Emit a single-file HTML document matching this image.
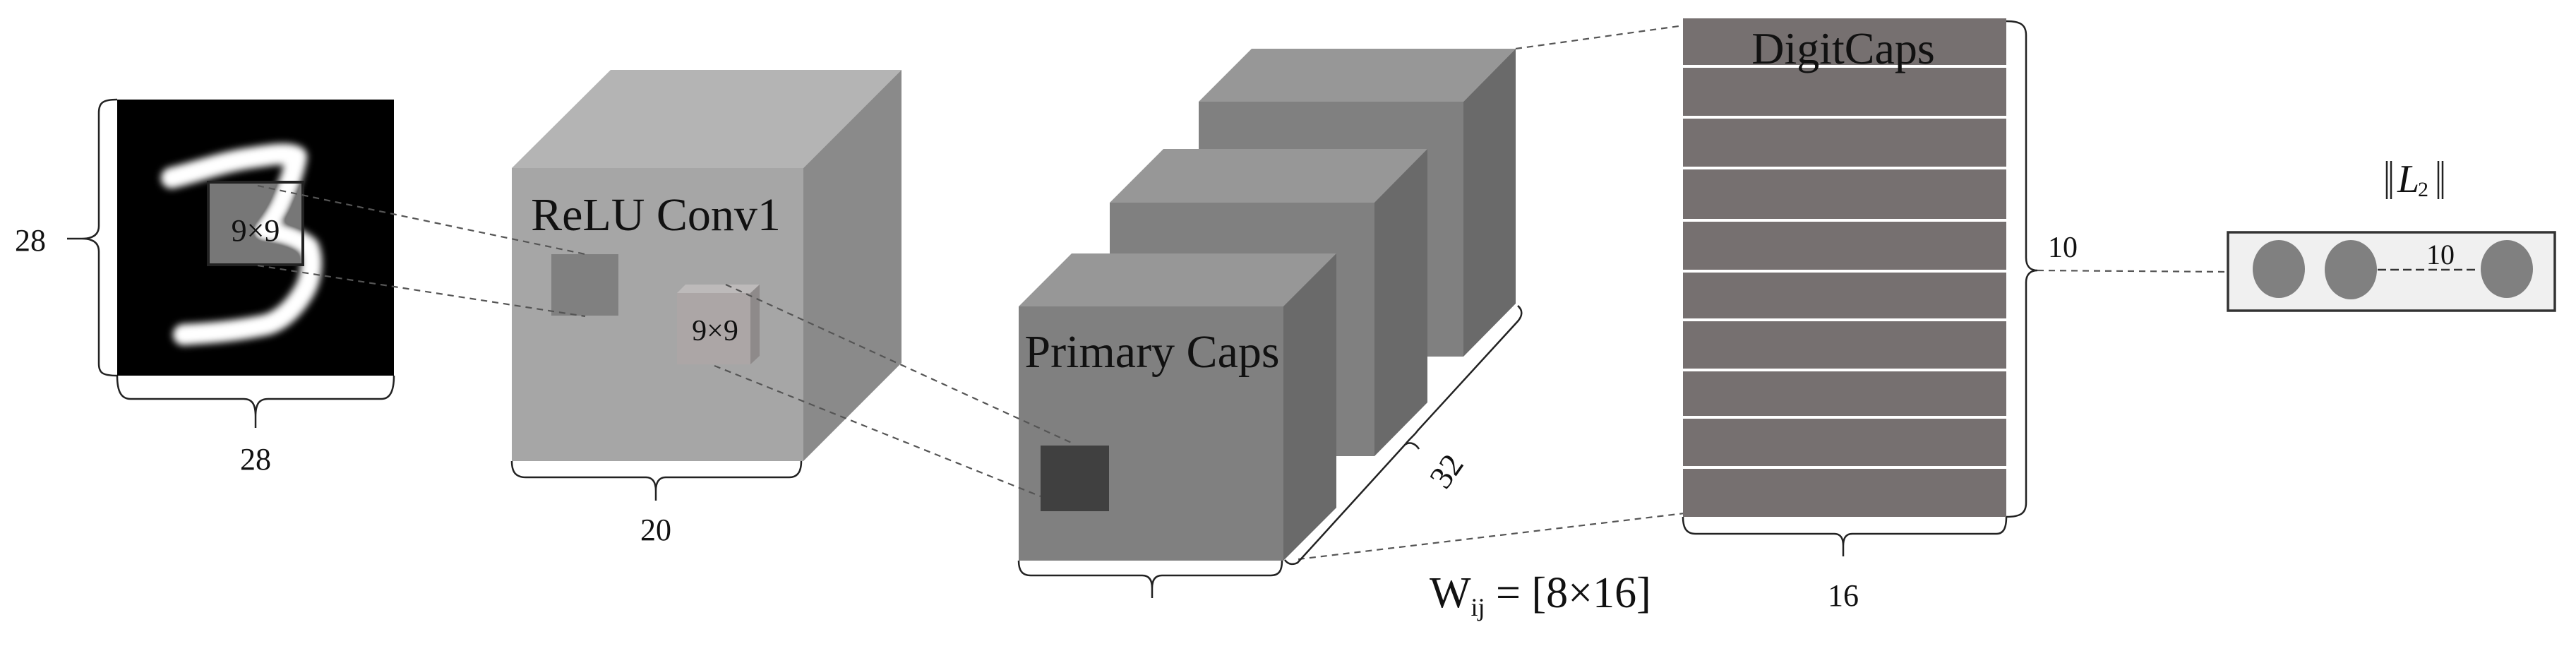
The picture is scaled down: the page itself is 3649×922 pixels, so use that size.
<!DOCTYPE html>
<html><head><meta charset="utf-8"><style>
html,body{margin:0;padding:0;background:#fff;}
svg{display:block;}
text{font-family:"Liberation Serif",serif;fill:#111;}
</style></head><body>
<svg width="3649" height="922" viewBox="0 0 3649 922" xmlns="http://www.w3.org/2000/svg">
<defs>
<filter id="bl" x="-20%" y="-20%" width="140%" height="140%"><feGaussianBlur stdDeviation="5"/></filter>
</defs>
<rect width="3649" height="922" fill="#fff"/>

<!-- MNIST -->
<rect x="166" y="141" width="392" height="391" fill="#000"/>
<path d="M243,252 C290,240 320,228 360,223 C390,218 410,216 420,222 C415,250 405,270 398,288 C390,305 380,318 373,327 C395,330 420,335 437,350 C445,370 440,395 432,410 C415,440 395,455 377,460 C330,470 290,472 260,474" fill="none" stroke="#fff" stroke-width="30" stroke-linecap="round" stroke-linejoin="round" filter="url(#bl)"/>
<rect x="295" y="258" width="134" height="117" fill="#777" style="mix-blend-mode:lighten"/>
<rect x="295" y="258" width="134" height="117" fill="none" stroke="#222" stroke-width="4"/>
<text x="362" y="341" font-size="44" text-anchor="middle">9×9</text>
<!-- braces MNIST -->
<path d="M166,141 C145,141 140,146 140,160 L140,320 C140,332 132,338 116,338 C132,338 140,344 140,356 L140,515 C140,528 145,532 166,532" fill="none" stroke="#222" stroke-width="2.5"/>
<line x1="95" y1="338" x2="116" y2="338" stroke="#222" stroke-width="2.5"/>
<text x="43" y="355" font-size="44" text-anchor="middle">28</text>
<path d="M166,532 C166,555 172,565 185,565 L345,565 C357,565 362,572 362,590 L362,606 M362,590 C362,572 367,565 380,565 L540,565 C552,565 558,555 558,532" fill="none" stroke="#222" stroke-width="2.5"/>
<text x="362" y="665" font-size="44" text-anchor="middle">28</text>

<!-- ReLU Conv1 cube -->
<polygon points="725,238 865,99 1277,99 1138,238" fill="#b4b4b4"/>
<polygon points="1138,238 1277,99 1277,514 1138,653" fill="#8a8a8a"/>
<rect x="725" y="238" width="413" height="415" fill="#a6a6a6"/>
<text x="929" y="326" font-size="66" text-anchor="middle">ReLU Conv1</text>
<rect x="781" y="360" width="95" height="87" fill="#808080"/>
<polygon points="959,415 971,403 1076,403 1063,415" fill="#bdbaba"/>
<polygon points="1063,415 1076,403 1076,504 1063,516" fill="#8e8a8a"/>
<rect x="959" y="415" width="104" height="101" fill="#aca6a6"/>
<text x="1013" y="482" font-size="42" text-anchor="middle">9×9</text>
<path d="M725,653 C725,668 730,676 745,676 L915,676 C925,676 929,684 929,695 L929,709 M929,695 C929,684 933,676 943,676 L1118,676 C1130,676 1135,668 1135,653" fill="none" stroke="#222" stroke-width="2.5"/>
<text x="929" y="765" font-size="44" text-anchor="middle">20</text>

<!-- dashed lines MNIST -> ReLU -->
<g stroke="#555" stroke-width="2.2" stroke-dasharray="9,7" fill="none">
<line x1="365" y1="263" x2="829" y2="360"/>
<line x1="365" y1="376" x2="829" y2="448"/>
</g>

<!-- Primary caps cubes -->
<polygon points="1698,144 1773,69 2147,69 2073,144" fill="#979797"/>
<polygon points="2073,144 2147,69 2147,430 2073,505" fill="#6a6a6a"/>
<rect x="1698" y="144" width="375" height="361" fill="#808080"/>

<polygon points="1572,287 1648,211 2022,211 1947,287" fill="#979797"/>
<polygon points="1947,287 2022,211 2022,570 1947,646" fill="#6a6a6a"/>
<rect x="1572" y="287" width="375" height="359" fill="#808080"/>

<polygon points="1443,434 1518,359 1893,359 1818,434" fill="#979797"/>
<polygon points="1818,434 1893,359 1893,719 1818,794" fill="#6a6a6a"/>
<rect x="1443" y="434" width="375" height="360" fill="#808080"/>
<text x="1632" y="520" font-size="66" text-anchor="middle">Primary Caps</text>
<rect x="1474" y="631" width="97" height="93" fill="#404040"/>

<!-- dashed -->
<g stroke="#555" stroke-width="2.2" stroke-dasharray="9,7" fill="none">
<line x1="1028" y1="403" x2="1522" y2="629"/>
<line x1="1012" y1="518" x2="1474" y2="703"/>
<line x1="2147" y1="69" x2="2436" y2="29"/>
<line x1="1839" y1="792" x2="2411" y2="724"/>
<line x1="2886" y1="383" x2="3155" y2="385"/>
</g>

<!-- brace under primary -->
<path d="M1443,794 C1443,808 1448,815 1460,815 L1618,815 C1628,815 1632,822 1632,833 L1632,847 M1632,833 C1632,822 1636,815 1646,815 L1800,815 C1812,815 1816,808 1816,794" fill="none" stroke="#222" stroke-width="2.5"/>
<!-- diagonal brace 32 -->
<path d="M1820,793 C1825,800 1832,800 1838,797 L1990,630 C1997,625 2005,628 2010,636 M1990,630 C1998,620 2005,615 2008,610 L2150,455 C2156,448 2158,440 2150,433" fill="none" stroke="#222" stroke-width="2.5"/>
<text x="2050" y="682" font-size="46" text-anchor="middle" transform="rotate(-55 2050 668)">32</text>
<text x="2025" y="860" font-size="62">W<tspan font-size="36" dy="12">ij</tspan><tspan dy="-12"> = [8×16]</tspan></text>

<!-- DigitCaps -->
<rect x="2384" y="26" width="458" height="706" fill="#767070"/>
<g stroke="#fff" stroke-width="4">
<line x1="2384" y1="94" x2="2842" y2="94"/>
<line x1="2384" y1="166" x2="2842" y2="166"/>
<line x1="2384" y1="238" x2="2842" y2="238"/>
<line x1="2384" y1="312" x2="2842" y2="312"/>
<line x1="2384" y1="384" x2="2842" y2="384"/>
<line x1="2384" y1="453" x2="2842" y2="453"/>
<line x1="2384" y1="524" x2="2842" y2="524"/>
<line x1="2384" y1="591" x2="2842" y2="591"/>
<line x1="2384" y1="662" x2="2842" y2="662"/>
</g>
<text x="2611" y="90" font-size="64" text-anchor="middle">DigitCaps</text>
<path d="M2842,30 C2862,30 2870,35 2870,50 L2870,365 C2870,377 2876,383 2886,383 C2876,383 2870,389 2870,400 L2870,712 C2870,727 2862,732 2842,732" fill="none" stroke="#222" stroke-width="2.5"/>
<text x="2922" y="364" font-size="42" text-anchor="middle">10</text>
<path d="M2384,732 C2384,748 2389,756 2402,756 L2598,756 C2608,756 2611,763 2611,773 L2611,788 M2611,773 C2611,763 2614,756 2624,756 L2828,756 C2838,756 2842,748 2842,732" fill="none" stroke="#222" stroke-width="2.5"/>
<text x="2611" y="858" font-size="44" text-anchor="middle">16</text>

<!-- L2 -->
<g stroke="#222" stroke-width="2.5">
<line x1="3381" y1="228" x2="3381" y2="282"/><line x1="3387" y1="228" x2="3387" y2="282"/>
<line x1="3454" y1="228" x2="3454" y2="282"/><line x1="3460" y1="228" x2="3460" y2="282"/>
</g>
<text x="3396" y="272" font-size="56" font-style="italic">L</text>
<text x="3425" y="278" font-size="30">2</text>
<rect x="3156" y="329" width="463" height="111" fill="#f0f0f0" stroke="#333" stroke-width="3.5"/>
<ellipse cx="3228" cy="381" rx="37" ry="41" fill="#808080"/>
<ellipse cx="3330" cy="382" rx="37" ry="42" fill="#808080"/>
<ellipse cx="3551" cy="381" rx="37" ry="41" fill="#808080"/>
<line x1="3368" y1="382" x2="3511" y2="382" stroke="#333" stroke-width="2.5" stroke-dasharray="12,6"/>
<text x="3457" y="374" font-size="40" text-anchor="middle">10</text>
</svg>
</body></html>
